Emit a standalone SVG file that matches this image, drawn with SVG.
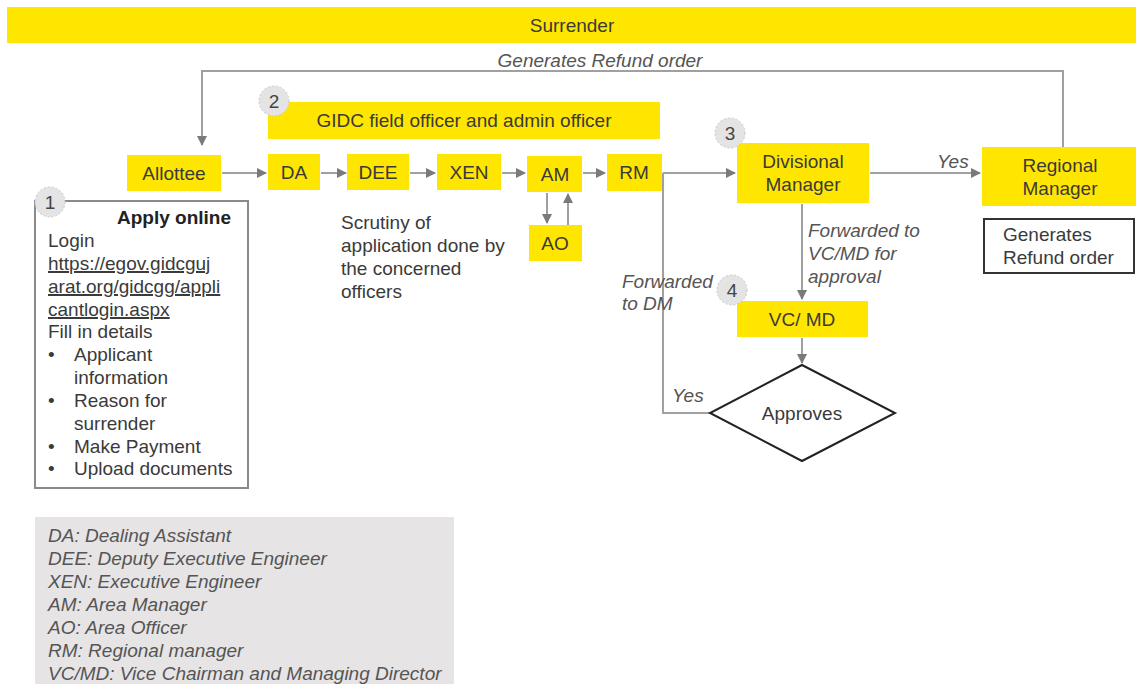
<svg xmlns="http://www.w3.org/2000/svg" width="1136" height="684" viewBox="0 0 1136 684">
<defs>
<marker id="ah" viewBox="0 0 10 10" refX="9" refY="5" markerWidth="10" markerHeight="10" markerUnits="userSpaceOnUse" orient="auto">
<path d="M0,0 L10,5 L0,10 z" fill="#7a7a7a"/>
</marker>
<style>
text{font-family:"Liberation Sans",Arial,sans-serif;font-size:19px;fill:#3a3a3a}
.y{fill:#ffe600}
.c{text-anchor:middle}
.i{font-style:italic;fill:#555}
.ln{fill:none;stroke:#a0a0a0;stroke-width:2}
.ar{fill:none;stroke:#a0a0a0;stroke-width:2;marker-end:url(#ah)}
.bd circle{fill:#e4e4e4;stroke:#c8c8c8;stroke-width:1;stroke-dasharray:2 2}
.bd text{font-size:19px;fill:#444;text-anchor:middle}
</style>
</defs>
<rect width="1136" height="684" fill="#fff"/>

<g id="banner"><rect class="y" x="7" y="7" width="1129" height="36"/><text class="c" x="572" y="32">Surrender</text></g>

<g id="connectors">
<polyline class="ar" points="1063,147 1063,71 202,71 202,145"/>
<line class="ar" x1="222" y1="173" x2="266" y2="173"/>
<line class="ar" x1="321" y1="173" x2="346" y2="173"/>
<line class="ar" x1="410" y1="173" x2="435" y2="173"/>
<line class="ar" x1="502" y1="173" x2="525" y2="173"/>
<line class="ar" x1="583" y1="173" x2="605" y2="173"/>
<line class="ar" x1="547" y1="193" x2="547" y2="223"/>
<line class="ar" x1="568" y1="225" x2="568" y2="194"/>
<line class="ar" x1="663" y1="173" x2="735" y2="173"/>
<polyline class="ln" points="710,413 663,413 663,173"/>
<line class="ar" x1="870" y1="173" x2="980" y2="173"/>
<line class="ar" x1="802" y1="204" x2="802" y2="299"/>
<line class="ar" x1="802" y1="338" x2="802" y2="363"/>
<text class="i" x="600" y="67" text-anchor="middle">Generates Refund order</text>
<text class="i" x="937" y="168">Yes</text>
<text class="i" x="672" y="402">Yes</text>
<text class="i" x="622" y="288">Forwarded</text>
<text class="i" x="622" y="310">to DM</text>
<text class="i" x="808" y="237">Forwarded to</text>
<text class="i" x="808" y="260">VC/MD for</text>
<text class="i" x="808" y="283">approval</text>
</g>

<g id="allottee"><rect class="y" x="127" y="155" width="94" height="36"/><text class="c" x="174" y="180">Allottee</text></g>
<g id="gidc"><rect class="y" x="268" y="102" width="392" height="37"/><text class="c" x="464" y="127">GIDC field officer and admin officer</text></g>
<g id="da"><rect class="y" x="268" y="154" width="52" height="36"/><text class="c" x="294" y="179">DA</text></g>
<g id="dee"><rect class="y" x="347" y="154" width="62" height="36"/><text class="c" x="378" y="179">DEE</text></g>
<g id="xen"><rect class="y" x="437" y="154" width="64" height="36"/><text class="c" x="469" y="179">XEN</text></g>
<g id="am"><rect class="y" x="527" y="156" width="55" height="36"/><text class="c" x="555" y="181">AM</text></g>
<g id="rm"><rect class="y" x="607" y="154" width="55" height="37"/><text class="c" x="634" y="179">RM</text></g>
<g id="ao"><rect class="y" x="529" y="225" width="53" height="36"/><text class="c" x="555" y="250">AO</text></g>
<g id="scrutiny"><text x="341" y="229">Scrutiny of</text><text x="341" y="252">application done by</text><text x="341" y="275">the concerned</text><text x="341" y="298">officers</text></g>
<g id="dm"><rect class="y" x="737" y="143" width="132" height="60"/><text class="c" x="803" y="168">Divisional</text><text class="c" x="803" y="191">Manager</text></g>
<g id="regm"><rect class="y" x="982" y="147" width="154" height="59"/><text class="c" x="1060" y="172">Regional</text><text class="c" x="1060" y="195">Manager</text></g>
<g id="refund"><rect x="984" y="219" width="150" height="54" fill="#fff" stroke="#333" stroke-width="2"/><text x="1003" y="241">Generates</text><text x="1003" y="264">Refund order</text></g>
<g id="vcmd"><rect class="y" x="737" y="301" width="131" height="36"/><text class="c" x="802" y="326">VC/ MD</text></g>
<g id="approves"><polygon points="802,365 895,413 802,461 710,413" fill="#fff" stroke="#222" stroke-width="2"/><text class="c" x="802" y="420">Approves</text></g>

<g id="apply">
<rect x="35" y="201" width="213" height="287" fill="#fff" stroke="#8a8a8a" stroke-width="2"/>
<text x="117" y="224" font-weight="bold" style="fill:#222">Apply online</text>
<text x="48" y="247">Login</text>
<g text-decoration="underline"><text x="48" y="270" text-decoration="underline">https://egov.gidcguj</text><text x="48" y="293" text-decoration="underline">arat.org/gidcgg/appli</text><text x="48" y="316" text-decoration="underline">cantlogin.aspx</text></g>
<text x="48" y="338">Fill in details</text>
<text x="48" y="361">•</text><text x="74" y="361">Applicant</text>
<text x="74" y="384">information</text>
<text x="48" y="407">•</text><text x="74" y="407">Reason for</text>
<text x="74" y="430">surrender</text>
<text x="48" y="453">•</text><text x="74" y="453">Make Payment</text>
<text x="48" y="475">•</text><text x="74" y="475">Upload documents</text>
</g>

<g id="badges" class="bd">
<g id="b1"><circle cx="50" cy="202" r="15"/><text x="50" y="209">1</text></g>
<g id="b2"><circle cx="274" cy="101" r="15"/><text x="274" y="108">2</text></g>
<g id="b3"><circle cx="730" cy="133" r="15"/><text x="730" y="140">3</text></g>
<g id="b4"><circle cx="732" cy="290" r="15"/><text x="732" y="297">4</text></g>
</g>

<g id="legend">
<rect x="35" y="517" width="419" height="167" fill="#e6e4e4"/>
<g class="i" style="fill:#444">
<text x="48" y="542" class="i">DA: Dealing Assistant</text>
<text x="48" y="565" class="i">DEE: Deputy Executive Engineer</text>
<text x="48" y="588" class="i">XEN: Executive Engineer</text>
<text x="48" y="611" class="i">AM: Area Manager</text>
<text x="48" y="634" class="i">AO: Area Officer</text>
<text x="48" y="657" class="i">RM: Regional manager</text>
<text x="48" y="680" class="i">VC/MD: Vice Chairman and Managing Director</text>
</g>
</g>
</svg>
